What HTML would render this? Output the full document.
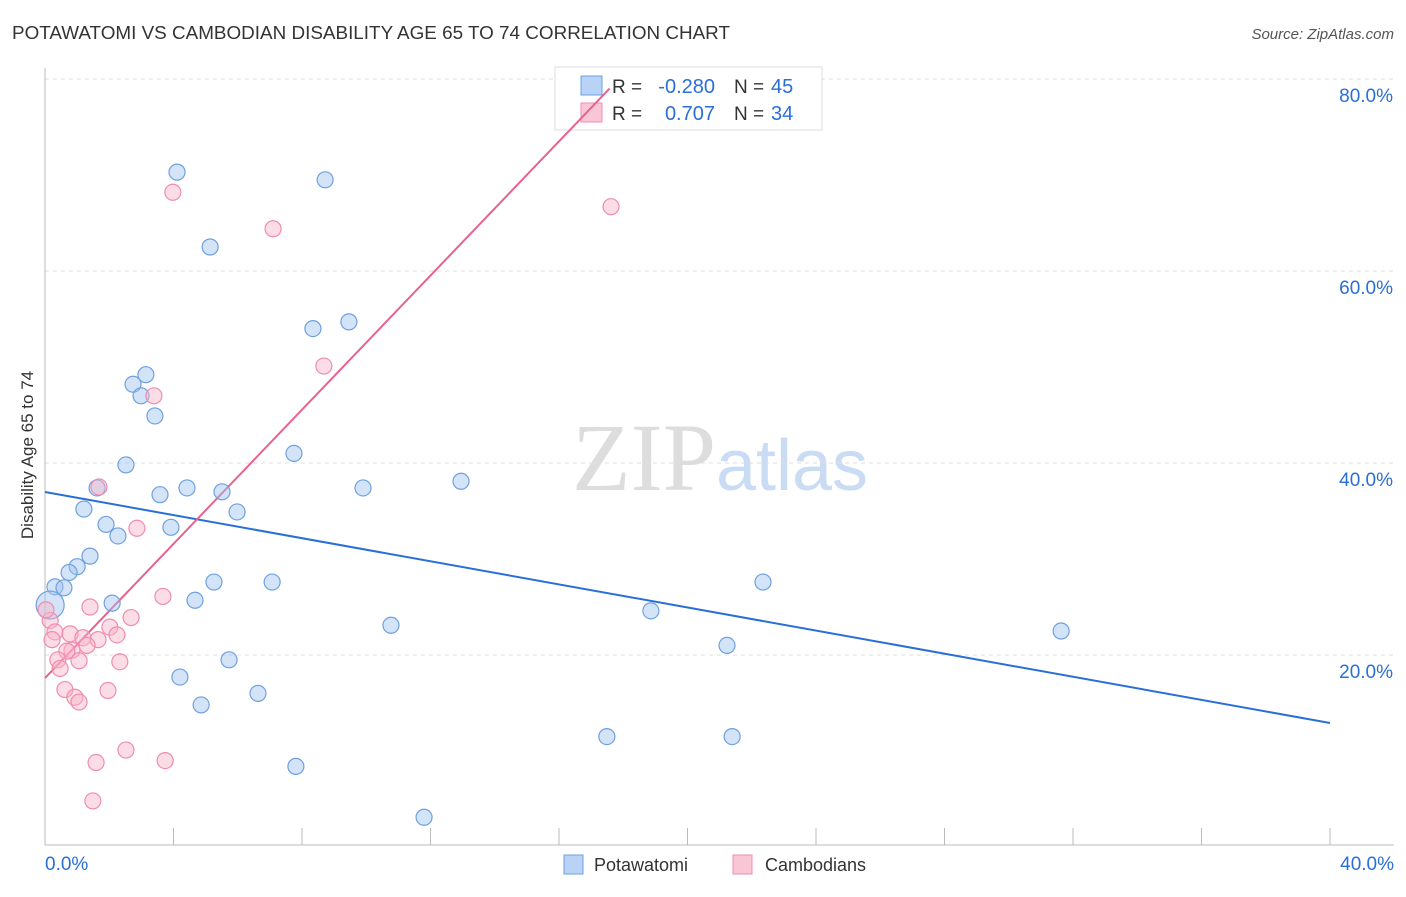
<!DOCTYPE html>
<html><head><meta charset="utf-8"><style>
body{margin:0;background:#fff;font-family:"Liberation Sans",sans-serif;}
svg text{font-family:"Liberation Sans",sans-serif;}
</style></head><body>
<svg id="chart" width="1406" height="892" xmlns="http://www.w3.org/2000/svg">
<text x="12" y="39" font-size="18" fill="#333" textLength="718" lengthAdjust="spacingAndGlyphs">POTAWATOMI VS CAMBODIAN DISABILITY AGE 65 TO 74 CORRELATION CHART</text>
<text x="1394" y="39" font-size="15" fill="#555" text-anchor="end" font-style="italic">Source: ZipAtlas.com</text>
<text x="720" y="490" font-size="96" text-anchor="middle"><tspan fill="#ddd" font-family="Liberation Serif">ZIP</tspan><tspan fill="#c9dcf3" font-size="72">atlas</tspan></text>
<text transform="translate(33,455) rotate(-90)" font-size="17" fill="#333" text-anchor="middle">Disability Age 65 to 74</text>
<g id="grid"></g><g id="axes"></g>
<g>
<rect x="555" y="67" width="267" height="63" fill="#fff" stroke="#ddd"/>
<rect x="581" y="76" width="21" height="19" fill="#b8d3f5" stroke="#6fa0e0"/>
<rect x="581" y="103" width="21" height="19" fill="#f9c6d6" stroke="#f08cb0"/>
<text x="612" y="93" font-size="19" fill="#333">R =</text>
<text x="715" y="93" font-size="20" fill="#2a6fd6" text-anchor="end">-0.280</text>
<text x="734" y="93" font-size="19" fill="#333">N =</text>
<text x="771" y="93" font-size="20" fill="#2a6fd6">45</text>
<text x="612" y="120" font-size="19" fill="#333">R =</text>
<text x="715" y="120" font-size="20" fill="#2a6fd6" text-anchor="end">0.707</text>
<text x="734" y="120" font-size="19" fill="#333">N =</text>
<text x="771" y="120" font-size="20" fill="#2a6fd6">34</text>
</g>
<g id="lines"></g><g id="points"></g>
<g>
<rect x="564" y="855" width="19" height="19" fill="#b8d3f5" stroke="#6fa0e0"/>
<text x="594" y="871" font-size="18" fill="#333">Potawatomi</text>
<rect x="733" y="855" width="19" height="19" fill="#f9c6d6" stroke="#f08cb0"/>
<text x="765" y="871" font-size="18" fill="#333">Cambodians</text>
</g>
</svg>
<script>
const blueX=[4.11,8.72,5.14,8.34,9.46,3.14,2.74,2.99,3.42,2.52,7.75,12.95,9.90,1.62,4.42,3.58,5.51,1.21,5.98,1.90,3.92,2.27,1.40,1.00,0.75,0.31,0.59,0.16,2.09,4.67,5.26,7.07,22.35,18.86,10.77,31.63,21.23,5.73,4.20,6.63,4.86,17.49,21.39,7.81,11.80];
const blueY=[70.3,69.5,62.5,54.0,54.7,49.2,48.2,47.0,44.9,39.8,41.0,38.1,37.4,37.4,37.4,36.7,37.0,35.2,34.9,33.6,33.3,32.4,30.3,29.2,28.6,27.1,27.0,25.2,25.4,25.7,27.6,27.6,27.6,24.6,23.1,22.5,21.0,19.5,17.7,16.0,14.8,11.5,11.5,8.4,3.1];
const pinkX=[3.98,7.10,17.62,8.68,3.39,1.68,2.86,3.67,1.40,2.68,2.02,0.16,0.31,0.78,1.18,1.65,2.24,0.22,1.31,0.84,0.68,0.40,1.06,2.33,0.47,0.62,1.96,0.93,1.06,2.52,3.74,1.59,1.49,0.03];
const pinkY=[68.2,64.4,66.7,50.1,47.0,37.5,33.2,26.1,25.0,23.9,22.9,23.6,22.4,22.2,21.8,21.6,22.1,21.6,21.0,20.5,20.4,19.5,19.4,19.3,18.6,16.4,16.3,15.6,15.1,10.1,9.0,8.8,4.8,24.7];
const blueTrend=[36.98,12.92]; // y at x=0 and x=40
const pinkTrend=[17.6,3.494]; // intercept, slope
const yTicks=[20,40,60,80];
const xTicks=[0,4,8,12,16,20,24,28,32,36,40];
const NS="http://www.w3.org/2000/svg";
const sx=v=>45+v/40*1285, sy=v=>847-v*9.6;
function mk(tag,attrs,parent){const e=document.createElementNS(NS,tag);for(const k in attrs)e.setAttribute(k,attrs[k]);document.getElementById(parent).appendChild(e);return e;}
yTicks.forEach(t=>{
 const l=mk('line',{x1:45,x2:1394,y1:sy(t),y2:sy(t),stroke:'#ddd','stroke-dasharray':'4,4'},'grid');
 
 
 const tx=mk('text',{x:1393,y:sy(t)+23,'font-size':19,fill:'#2a6fd6','text-anchor':'end'},'grid');
 tx.textContent=t.toFixed(1)+'%';
 
 
});
mk('line',{x1:45,x2:1394,y1:845,y2:845,stroke:'#bbb'},'axes');
mk('line',{x1:45,x2:45,y1:68,y2:845,stroke:'#bbb'},'axes');
xTicks.forEach(t=>{
 const l=mk('line',{x1:sx(t),x2:sx(t),y1:828,y2:845,stroke:'#bbb'},'axes');
 
 
});
[[0,'0.0%','start',45],[40,'40.0%','end',1394]].forEach(a=>{
 const tx=mk('text',{x:a[3],y:870,'font-size':19,fill:'#2a6fd6','text-anchor':a[2]},'axes');
 tx.textContent=a[1];
 
 
});
const bl=mk('line',{x1:sx(0),y1:sy(blueTrend[0]),x2:sx(40),y2:sy(blueTrend[1]),stroke:'#2a6fd6','stroke-width':2},'lines');


const pEnd=(79-pinkTrend[0])/pinkTrend[1];
const pl=mk('line',{x1:sx(0),y1:sy(pinkTrend[0]),x2:sx(pEnd),y2:sy(pinkTrend[0]+pinkTrend[1]*pEnd),stroke:'#e8628e','stroke-width':2},'lines');


blueX.forEach((x,i)=>{
 const c=mk('circle',{cx:sx(x),cy:sy(blueY[i]),r:(i==27?14:8),fill:'rgba(160,195,240,0.45)',stroke:'#6fa0e0','stroke-width':1.2},'points');
 
 
});
pinkX.forEach((x,i)=>{
 const c=mk('circle',{cx:sx(x),cy:sy(pinkY[i]),r:8,fill:'rgba(248,180,200,0.45)',stroke:'#f08cb0','stroke-width':1.2},'points');
 
 
});
</script>
</body></html>
